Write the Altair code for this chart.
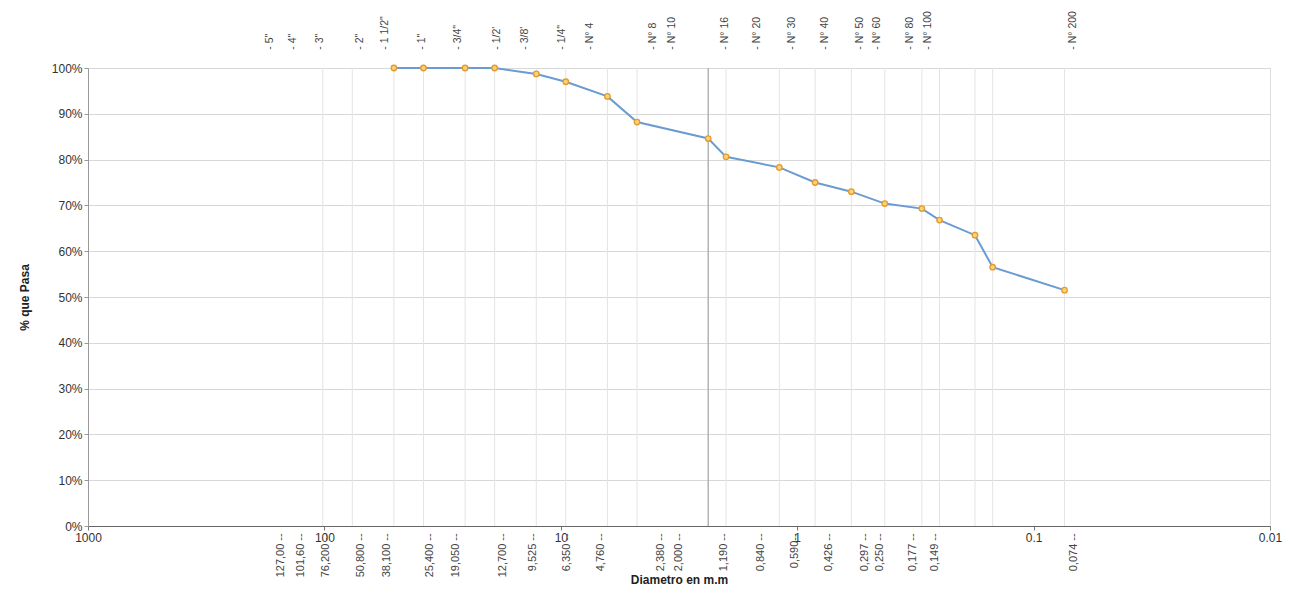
import altair as alt
import pandas as pd

# Sieve sizes (mm) and percent passing
sizes_mm = [50.8, 38.1, 25.4, 19.05, 12.7, 9.525, 6.35, 4.76, 2.38, 2.0,
            1.19, 0.84, 0.59, 0.426, 0.297, 0.25, 0.177, 0.149, 0.074]
pct_pass = [100, 100, 100, 100, 98.7, 97.0, 93.8, 88.2, 84.6, 80.6,
            78.3, 75.0, 73.0, 70.4, 69.3, 66.8, 63.5, 56.5, 51.5]

# vertical grid lines (one per sieve)
grid_mm = [101.6, 76.2] + sizes_mm
dark_grid_mm = [2.38]

# sieve names written above the plot, and where they sit on the x scale
top_labels = ['- 5"', '- 4"', '- 3"', '- 2"', '- 1 1/2"', '- 1"', '- 3/4"', "- 1/2'",
              "- 3/8'", '- 1/4"', '- N° 4', '- N° 8', '- N° 10', '- N° 16', '- N° 20',
              '- N° 30', '- N° 40', '- N° 50', '- N° 60', '- N° 80', '- N° 100', '- N° 200']
top_label_mm = [169.9, 135.8, 104.4, 70.7, 55.4, 38.7, 27.2, 18.6, 14.2, 9.88, 7.52,
                4.07, 3.39, 2.02, 1.48, 1.05, 0.762, 0.542, 0.459, 0.333, 0.280, 0.068]

# sieve openings written under the axis
bottom_labels = ['127,00 --', '101,60 --', '76,200 --', '50,800 --', '38,100 --',
                 '25,400 --', '19,050 --', '12,700 --', '9,525 --', '6,350 --',
                 '4,760 --', '2,380 --', '2,000 --', '1,190 --', '0,840 --', '0,590--',
                 '0,426 --', '0,297 --', '0,250 --', '0,177 --', '0,149 --', '0,074 --']
bottom_label_mm = [152.6, 125.6, 98.4, 70.0, 54.35, 35.8, 27.75, 17.56, 13.11, 9.415,
                   6.76, 3.77, 3.16, 2.04, 1.42, 1.02, 0.734, 0.517, 0.446, 0.324,
                   0.261, 0.0675]

x_ticks = [1000, 100, 10, 1, 0.1, 0.01]
y_ticks = [0, 10, 20, 30, 40, 50, 60, 70, 80, 90, 100]

FONT = "Liberation Sans"

curve = pd.DataFrame({"d": sizes_mm, "p": pct_pass})
grid = pd.DataFrame({"d": grid_mm})
dgrid = pd.DataFrame({"d": dark_grid_mm})
top = pd.DataFrame({"d": top_label_mm, "t": top_labels, "y": [104] * len(top_labels)})
bot = pd.DataFrame({"d": bottom_label_mm, "t": bottom_labels, "y": [-1.6] * len(bottom_labels)})

xscale = alt.Scale(type="log", domain=[0.01, 1000], reverse=True, nice=False)
yscale = alt.Scale(domain=[0, 100], nice=False)

xenc = alt.X("d:Q", scale=xscale,
             axis=alt.Axis(values=x_ticks, format="~g", title="Diametro en m.m",
                           grid=False, domainColor="#666", tickColor="#777",
                           tickSize=4, labelFont=FONT, labelFontSize=12,
                           labelColor="#333", titleFont=FONT, titleFontSize=12,
                           titleFontWeight="bold", titleColor="#222", titleY=48,
                           labelFlush=False, labelOverlap=False))
yenc = alt.Y("p:Q", scale=yscale,
             axis=alt.Axis(values=y_ticks, labelExpr="datum.value + '%'",
                           title="% que Pasa", grid=True, gridColor="#d8d8d8",
                           domainColor="#999", tickColor="#999", tickSize=4,
                           labelFont=FONT, labelFontSize=12, labelColor="#333",
                           titleFont=FONT, titleFontSize=12, titleFontWeight="bold",
                           titleColor="#222", titlePadding=20))

vgrid = alt.Chart(grid).mark_rule(color="#e4e4e4", strokeWidth=1).encode(
    x=alt.X("d:Q", scale=xscale), y=alt.datum(0), y2=alt.datum(100))
vgrid_dark = alt.Chart(dgrid).mark_rule(color="#9a9a9a", strokeWidth=1).encode(
    x=alt.X("d:Q", scale=xscale), y=alt.datum(0), y2=alt.datum(100))

line = alt.Chart(curve).mark_line(color="#6a9bd1", strokeWidth=2).encode(x=xenc, y=yenc)
pts = alt.Chart(curve).mark_point(shape="circle", filled=True, fill="#f8d27c",
                                  stroke="#e59a2a", strokeWidth=1.3, size=30,
                                  opacity=1).encode(x=alt.X("d:Q", scale=xscale),
                                                    y=alt.Y("p:Q", scale=yscale))

toptext = alt.Chart(top).mark_text(angle=270, align="left", baseline="middle",
                                   font=FONT, fontSize=10.5, color="#444").encode(
    x=alt.X("d:Q", scale=xscale), y=alt.Y("y:Q", scale=yscale), text="t:N")
bottext = alt.Chart(bot).mark_text(angle=270, align="right", baseline="middle",
                                   font=FONT, fontSize=11, color="#444").encode(
    x=alt.X("d:Q", scale=xscale), y=alt.Y("y:Q", scale=yscale), text="t:N")

chart = alt.layer(vgrid, vgrid_dark, line, pts, toptext, bottext).properties(
    width=1182, height=458,
    autosize=alt.AutoSizeParams(type="none"),
    padding={"left": 80, "top": 60, "right": 18, "bottom": 62},
).configure_view(stroke=None).configure(background="white")

chart.save("out.html", embed_options={"renderer": "svg", "actions": False})
